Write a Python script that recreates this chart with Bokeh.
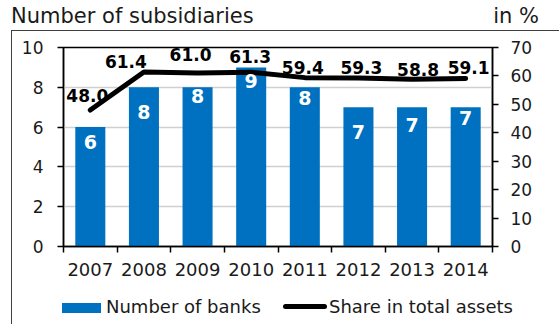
from bokeh.plotting import figure
from bokeh.layouts import column
from bokeh.models import (ColumnDataSource, Range1d, LinearAxis, Div,
                          FixedTicker, LabelSet, Grid)
from bokeh.core.properties import value
from bokeh.embed import file_html
from bokeh.resources import INLINE

# ---- data ----
years = ["2007", "2008", "2009", "2010", "2011", "2012", "2013", "2014"]
banks = [6, 8, 8, 9, 8, 7, 7, 7]
share = [48.0, 61.4, 61.0, 61.3, 59.4, 59.3, 58.8, 59.1]
left_ticks = [0, 2, 4, 6, 8, 10]
right_ticks = [0, 10, 20, 30, 40, 50, 60, 70]
title_left = "Number of subsidiaries"
title_right = "in %"
series_names = ["Number of banks", "Share in total assets"]

# ---- label styling offsets (screen px) ----
bar_label_dy = [-15, -25, -9, -14, -11, -25, -18, -11]
line_label_dx = [-3, -18, -7, -1, -2, 3, 6, 3]
line_label_dy = [15, 10, 18.5, 16, 10, 10, 10, 10.5]

FONT = "DejaVu Sans"
TXT = "#1a1a1a"
BLUE = "#0070C0"
BORDER = "#404040"
HEAD_H = 30
FOOT_H = 34
W, H = 559, 324

n = len(years)
xpos = [i + 0.5 for i in range(n)]   # category centres on a numeric scale

src = ColumnDataSource(dict(
    x=xpos, year=years, banks=banks, share=share,
    banks_txt=[str(b) for b in banks],
    share_txt=["%.1f" % s for s in share],
    bdy=bar_label_dy, ldx=line_label_dx, ldy=line_label_dy,
))

header = Div(
    text=(f'<div style="position:relative;width:{W}px;height:{HEAD_H}px;'
          f"font-family:'{FONT}';font-size:21px;line-height:21px;color:{TXT};\">"
          f'<span style="position:absolute;left:11px;top:6px;white-space:nowrap">{title_left}</span>'
          f'<span style="position:absolute;right:20px;top:6px;white-space:nowrap">{title_right}</span>'
          '</div>'),
    width=W, height=HEAD_H, margin=(0, 0, 0, 0))

footer = Div(
    text=(f'<div style="position:relative;width:{W}px;height:{FOOT_H}px;'
          f"font-family:'{FONT}';font-size:18px;line-height:22px;color:{TXT};\">"
          f'<span style="position:absolute;left:11px;top:0;width:1px;height:{FOOT_H}px;background:{BORDER}"></span>'
          f'<span style="position:absolute;left:62px;top:13px;width:39px;height:10px;background:{BLUE}"></span>'
          f'<span style="position:absolute;left:106px;top:6px;white-space:nowrap">{series_names[0]}</span>'
          f'<span style="position:absolute;left:283px;top:14px;width:44px;height:5px;border-radius:2.5px;background:black"></span>'
          f'<span style="position:absolute;left:329px;top:6px;white-space:nowrap">{series_names[1]}</span>'
          '</div>'),
    width=W, height=FOOT_H, margin=(0, 0, 0, 0))

PH = H - HEAD_H - FOOT_H
p = figure(x_range=Range1d(0, n), y_range=Range1d(0, 10), width=W,
           height=PH, output_backend="svg", toolbar_location=None,
           x_axis_location=None, y_axis_location=None,
           min_border_left=63, min_border_right=67,
           min_border_top=47 - HEAD_H, min_border_bottom=(H - FOOT_H) - 246,
           margin=(0, 0, 0, 0))
p.extra_y_ranges = {"pct": Range1d(0, 70)}
p.grid.visible = False
p.outline_line_color = "black"
p.outline_line_width = 1.5
p.background_fill_color = "white"
p.border_fill_alpha = 0
# thin chart border (left and top edges) drawn as the plot's CSS background
p.styles = {
    "background": (f"linear-gradient({BORDER},{BORDER}) 11px 0px / 1px 400px no-repeat, "
                   f"linear-gradient({BORDER},{BORDER}) 11px 0px / 600px 1px no-repeat, "
                   "white"),
}

p.add_layout(Grid(dimension=1, ticker=FixedTicker(ticks=left_ticks[1:-1]),
                  grid_line_color="#d0d0d0", grid_line_width=1.5))

axis_common = dict(major_tick_in=0, minor_tick_in=0, minor_tick_out=0,
                   axis_line_width=1.5, major_tick_line_width=1.5,
                   major_label_text_font=FONT, major_label_text_color=TXT)

yl = LinearAxis(ticker=FixedTicker(ticks=left_ticks), major_tick_out=6,
                major_label_standoff=14, major_label_text_font_size="17px",
                **axis_common)
p.add_layout(yl, "left")

yr = LinearAxis(y_range_name="pct", ticker=FixedTicker(ticks=right_ticks),
                major_tick_out=6, major_label_standoff=12,
                major_label_text_font_size="17px", **axis_common)
p.add_layout(yr, "right")

# year labels at the centres, ticks (minor) at the category boundaries
xl = LinearAxis(ticker=FixedTicker(ticks=xpos, minor_ticks=list(range(n + 1))),
                major_label_overrides={x: y for x, y in zip(xpos, years)},
                major_tick_out=0, major_tick_in=0,
                minor_tick_out=6, minor_tick_in=0,
                minor_tick_line_color="black", minor_tick_line_width=1.5,
                axis_line_width=1.5, major_label_standoff=10,
                major_label_text_font=FONT, major_label_text_color=TXT,
                major_label_text_font_size="18px")
p.add_layout(xl, "below")

bars = p.vbar(x="x", top="banks", width=0.56, source=src,
              fill_color=BLUE, line_color=None)
line = p.line(x="x", y="share", y_range_name="pct", source=src,
              line_color="black", line_width=5, line_cap="round",
              line_join="round")

p.add_layout(LabelSet(x="x", y="banks", text="banks_txt", y_offset="bdy",
                      source=src, text_align="center", text_baseline="middle",
                      text_color="white", text_font=value(FONT),
                      text_font_style="bold", text_font_size="19px"))
p.add_layout(LabelSet(x="x", y="share", y_range_name="pct", text="share_txt",
                      x_offset="ldx", y_offset="ldy", source=src,
                      text_align="center", text_baseline="middle",
                      text_color="black", text_font=value(FONT),
                      text_font_style="bold", text_font_size="17px"))

layout = column(header, p, footer, spacing=0, margin=(0, 0, 0, 0))
open("out.html", "w").write(file_html(layout, INLINE))
